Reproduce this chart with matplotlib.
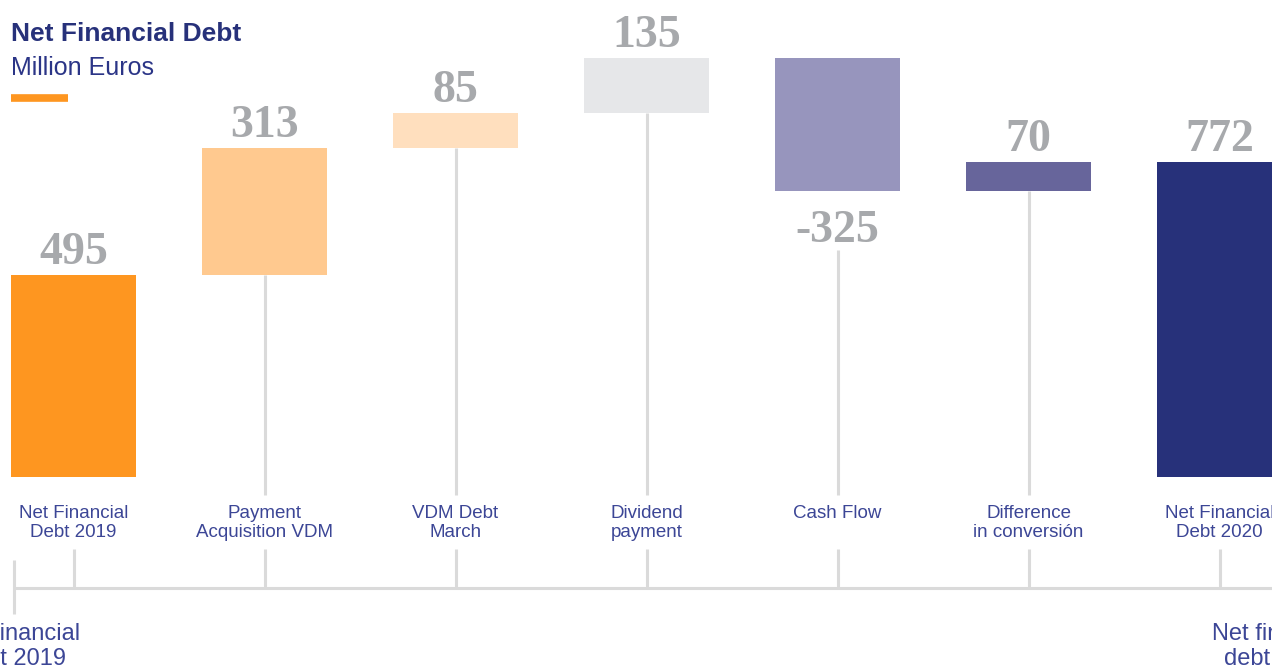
import numpy as np
import matplotlib.pyplot as plt
from matplotlib.transforms import blended_transform_factory

# Net financial debt bridge, million euros
labels = ["Net Financial\nDebt 2019", "Payment\nAcquisition VDM", "VDM Debt\nMarch",
          "Dividend\npayment", "Cash Flow", "Difference\nin conversión",
          "Net Financial\nDebt 2020"]
values = [495, 313, 85, 135, -325, 70, 772]
is_total = [True, False, False, False, False, False, True]
colors = ["#fe9620", "#ffc98f", "#ffdfbe", "#e6e7e9", "#9795bd", "#67659b", "#27317a"]
bottom_labels = ["Net Financial\nDebt 2019", "Net financial\ndebt 2020"]

W, H = 1272, 668
fig = plt.figure(figsize=(W / 100, H / 100), dpi=100)
ax = fig.add_axes([0, 0, 1, 1])
ax.axis('off')

step = 191.0
x0 = 73.5
scale = 0.4075  # px per million
zero_py = 477
ax.set_xlim(-x0 / step, (W - x0) / step)
ax.set_ylim(-(H - zero_py) / scale, zero_py / scale)

# y in pixels from the top, x in category units
def py(p):
    return 1 - p / H
tr = blended_transform_factory(ax.transData, fig.transFigure)

navy = "#27317a"
label_col = "#3c4696"
grey_line = "#dadada"
num_col = "#a7a9ac"

x = np.arange(len(values))
running = 0
bottoms, heights = [], []
for v, tot in zip(values, is_total):
    if tot:
        bottoms.append(0)
        heights.append(v)
        running = v
    else:
        bottoms.append(min(running, running + v))
        heights.append(abs(v))
        running += v

ax.bar(x, heights, bottom=bottoms, width=125 / step, color=colors, zorder=3)

for i, v in enumerate(values):
    b, h = bottoms[i], heights[i]
    if v >= 0:
        ax.annotate(str(v), (i, b + h), xytext=(0, 8), textcoords='offset points',
                    ha='center', va='baseline', fontsize=33, fontweight='bold',
                    family='Liberation Serif', color=num_col)
    else:
        ax.annotate(str(v), (i, b), xytext=(0, -37), textcoords='offset points',
                    ha='center', va='baseline', fontsize=33, fontweight='bold',
                    family='Liberation Serif', color=num_col)
    # stem from the bar down to the labels
    if not is_total[i]:
        top = b if v >= 0 else b - 59 / scale
        ax.plot([i, i], [top, -(495 - zero_py) / scale], color=grey_line, lw=2.2,
                zorder=1, solid_capstyle='butt')
    ax.text(i, py(505), labels[i], transform=tr, ha='center', va='top',
            fontsize=13.5, family='Liberation Sans', color=label_col, linespacing=1.12)
    ax.plot([i, i], [py(549), py(588)], transform=tr, color=grey_line, lw=2.2,
            solid_capstyle='butt')

# base axis with outer markers
xl = 14
ax.plot([(xl - x0) / step, (W - x0) / step], [py(588), py(588)], transform=tr,
        color=grey_line, lw=2.2, solid_capstyle='butt')
ax.plot([(xl - x0) / step] * 2, [py(560), py(614)], transform=tr,
        color=grey_line, lw=2.2, solid_capstyle='butt')
for txt, px in zip(bottom_labels, [11, 1277]):
    ax.text((px - x0) / step, py(623), txt, transform=tr, ha='center', va='top',
            fontsize=17, family='Liberation Sans', color=label_col, linespacing=1.16)

# heading
fig.text(11 / W, py(41), "Net Financial Debt", fontsize=19, fontweight='bold',
         family='Liberation Sans', color=navy, va='baseline')
fig.text(11 / W, py(75), "Million Euros", fontsize=18,
         family='Liberation Sans', color="#2b3587", va='baseline')
ax.plot([(11 - x0) / step, (68 - x0) / step], [py(98), py(98)], transform=tr,
        color="#fe9620", lw=5.5, solid_capstyle='butt')

fig.savefig("out.png", dpi=100)
